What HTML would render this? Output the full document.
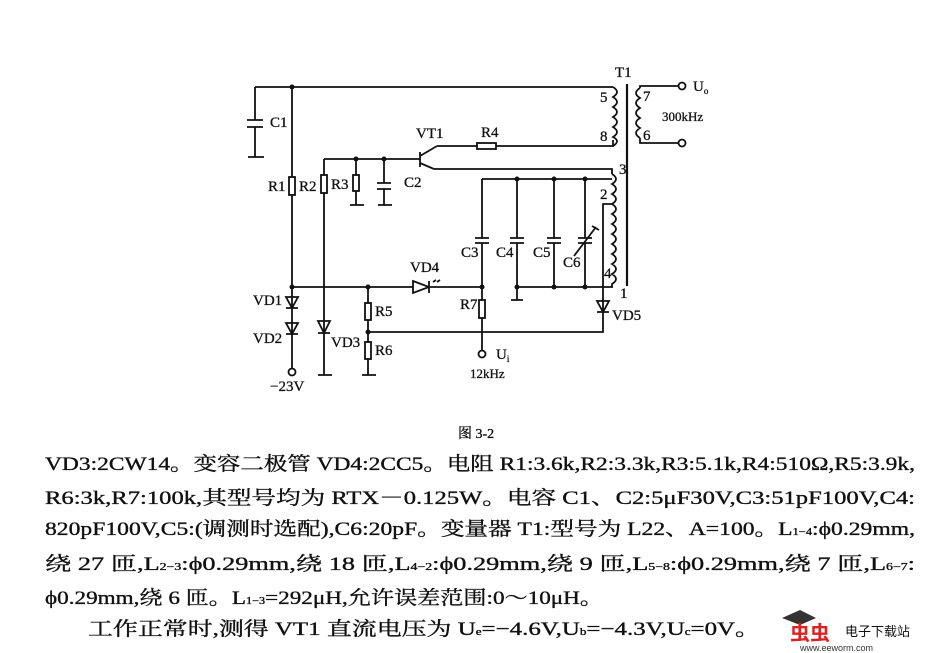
<!DOCTYPE html>
<html><head><meta charset="utf-8"><style>
body{margin:0;background:#fff;}
svg{display:block}
.t{font-family:"Liberation Serif","Noto Serif CJK SC",serif;fill:#111}
</style></head><body>
<svg width="928" height="653" viewBox="0 0 928 653" xmlns="http://www.w3.org/2000/svg">
<g stroke="#111" stroke-width="1.8" fill="none">
<path d="M255 87H613"/>
<path d="M255 87V120M255 127V157M248 157H264M247 120H263M247 127H263"/>
<path d="M292 87V287"/><rect x="289" y="177" width="6" height="18" fill="#fff"/>
<path d="M324 159V375M318 375H332"/><rect x="321" y="175" width="6" height="18" fill="#fff"/>
<path d="M324 159H420"/>
<path d="M356 159V205M350 205H364"/><rect x="353" y="175" width="6" height="16" fill="#fff"/>
<path d="M384 159V183M384 189V205M378 205H392M377 183H391M377 189H391"/>
<path d="M420 152V167M420 156L437 146M420 163L434 169"/>
<path d="M437 146H477M496 146H613V140"/><rect x="477" y="143" width="19" height="6" fill="#fff"/>
<path d="M434 169H612V174"/>
<path d="M613 87 q8 5 0 10 q8 5 0 10 q8 5 0 10 q8 5 0 10 q8 5 0 10 q8 4 0 9"/>
<path d="M627 84V286" stroke-width="2.2"/>
<path d="M640 88 q-8 5 0 10 q-8 5 0 10 q-8 5 0 10 q-8 5 0 10 q-8 5 0 10"/>
<path d="M640 88V86H678M640 138V143H678"/>
<circle cx="682" cy="86" r="3.5" fill="#fff"/><circle cx="682" cy="143" r="3.5" fill="#fff"/>
<path d="M612 174 q8 5 0 10 q8 5 0 10 q8 5 0 10 q8 5 0 10 q8 5 0 10 q8 5 0 10 q8 5 0 10 q8 5 0 10 q8 5 0 10 q8 5 0 10 q8 5 0 10V287"/>
<path d="M482 179H612M482 179V238M482 243V287"/>
<path d="M517 179V238M517 243V300M511 300H523"/>
<path d="M554 179V238M554 243V287"/>
<path d="M585 179V238M585 243V287"/>
<path d="M475 238H489M475 243H489M510 238H524M510 243H524M547 238H561M547 243H561M578 238H592M578 243H592"/>
<path d="M574 256L596 227M592 226L599 230"/>
<path d="M517 287H613"/>
<path d="M612 204H603V332H368"/>
<path d="M597 312H609M603 312L597 301H609Z"/>
<path d="M292 287H413M430 287H482"/>
<path d="M413 281L429 287L413 293ZM429 281V293"/>
<path d="M433 282l3 -2M437 282l3 -2"/>
<path d="M482 287V350"/><rect x="479" y="300" width="6" height="18" fill="#fff"/>
<circle cx="482" cy="354" r="3.5" fill="#fff"/>
<path d="M292 287V368"/>
<path d="M286 297H298L292 308ZM286 308H298"/>
<path d="M286 323H298L292 334ZM286 334H298"/>
<circle cx="292" cy="372" r="3.5" fill="#fff"/>
<path d="M318 321H330L324 333ZM318 333H330"/>
<path d="M368 287V375M362 375H376"/>
<rect x="365" y="303" width="6" height="17" fill="#fff"/>
<rect x="365" y="342" width="6" height="17" fill="#fff"/>
</g>
<g fill="#111">
<circle cx="292" cy="87" r="2.5"/><circle cx="356" cy="159" r="2.5"/><circle cx="384" cy="159" r="2.5"/>
<circle cx="517" cy="179" r="2.5"/><circle cx="554" cy="179" r="2.5"/><circle cx="585" cy="179" r="2.5"/>
<circle cx="517" cy="287" r="2.5"/><circle cx="554" cy="287" r="2.5"/><circle cx="585" cy="287" r="2.5"/>
<circle cx="292" cy="287" r="2.5"/><circle cx="368" cy="287" r="2.5"/><circle cx="482" cy="287" r="2.5"/>
<circle cx="368" cy="332" r="2.5"/>
</g>
<g class="t" font-size="15" stroke="#111" stroke-width="0.3">
<text x="615" y="77">T1</text><text x="693" y="91">U<tspan font-size="9" dy="3">o</tspan></text>
<text x="600" y="102">5</text><text x="600" y="141">8</text><text x="643" y="101">7</text><text x="643" y="140">6</text>
<text x="662" y="121" font-size="13">300kHz</text>
<text x="270" y="127">C1</text><text x="416" y="138">VT1</text><text x="481" y="137">R4</text>
<text x="268" y="191">R1</text><text x="299" y="191">R2</text><text x="331" y="189">R3</text><text x="404" y="187">C2</text>
<text x="619" y="174">3</text><text x="600" y="199">2</text><text x="604" y="278">4</text><text x="620" y="298">1</text>
<text x="461" y="257">C3</text><text x="496" y="257">C4</text><text x="533" y="257">C5</text><text x="563" y="267">C6</text>
<text x="410" y="272">VD4</text><text x="460" y="309">R7</text><text x="375" y="316">R5</text><text x="375" y="355">R6</text>
<text x="253" y="305">VD1</text><text x="253" y="343">VD2</text><text x="331" y="347">VD3</text><text x="612" y="320">VD5</text>
<text x="496" y="359">U<tspan font-size="9" dy="3">i</tspan></text><text x="470" y="378" font-size="13">12kHz</text>
<text x="270" y="391">−23V</text>
</g>
<g class="t" font-size="19" stroke="#111" stroke-width="0.35">
<text x="458" y="438" font-size="14">图 3-2</text>
<text x="45" y="470" textLength="870" lengthAdjust="spacingAndGlyphs">VD3:2CW14。变容二极管 VD4:2CC5。电阻 R1:3.6k,R2:3.3k,R3:5.1k,R4:510Ω,R5:3.9k,</text>
<text x="45" y="504" textLength="870" lengthAdjust="spacingAndGlyphs">R6:3k,R7:100k,其型号均为 RTX－0.125W。电容 C1、C2:5μF30V,C3:51pF100V,C4:</text>
<text x="45" y="535" textLength="870" lengthAdjust="spacingAndGlyphs">820pF100V,C5:(调测时选配),C6:20pF。变量器 T1:型号为 L22、A=100。L<tspan font-size="10">1−4</tspan>:ϕ0.29mm,</text>
<text x="45" y="570" textLength="870" lengthAdjust="spacingAndGlyphs">绕 27 匝,L<tspan font-size="10">2−3</tspan>:ϕ0.29mm,绕 18 匝,L<tspan font-size="10">4−2</tspan>:ϕ0.29mm,绕 9 匝,L<tspan font-size="10">5−8</tspan>:ϕ0.29mm,绕 7 匝,L<tspan font-size="10">6−7</tspan>:</text>
<text x="45" y="604" textLength="558" lengthAdjust="spacingAndGlyphs">ϕ0.29mm,绕 6 匝。L<tspan font-size="10">1−3</tspan>=292μH,允许误差范围:0～10μH。</text>
<text x="88" y="635" textLength="672" lengthAdjust="spacingAndGlyphs">工作正常时,测得 VT1 直流电压为 U<tspan font-size="10">e</tspan>=−4.6V,U<tspan font-size="10">b</tspan>=−4.3V,U<tspan font-size="10">c</tspan>=0V。</text>
</g>
<path d="M782 618L800 610L816 618L800 625Z" fill="#333"/>
<text x="790" y="640" font-family="Liberation Sans,'Noto Sans CJK SC',sans-serif" font-size="20" font-weight="bold" fill="#d22">虫虫</text>
<text x="845" y="636" font-family="Liberation Sans,'Noto Sans CJK SC',sans-serif" font-size="13" fill="#111">电子下载站</text>
<text x="800" y="651" font-family="Liberation Sans,sans-serif" font-size="9" fill="#333">www.eeworm.com</text>
</svg>
</body></html>
